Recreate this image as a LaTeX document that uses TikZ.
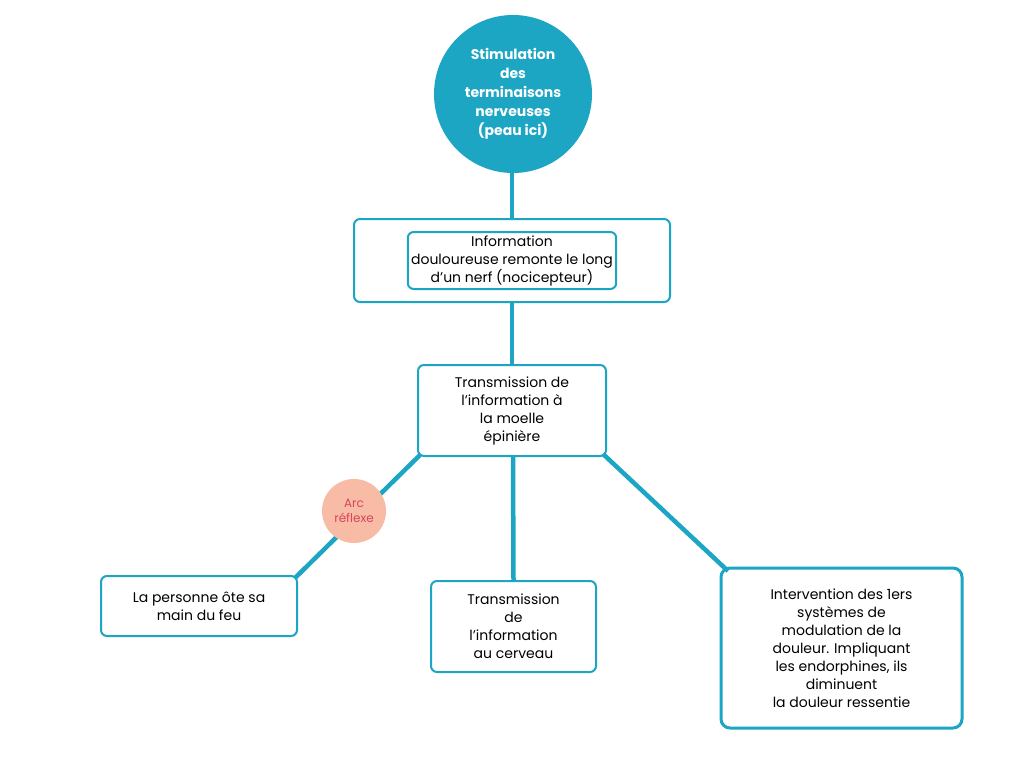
\documentclass[tikz,border=0pt]{standalone}
\usepackage{fontspec}
\setmainfont{Poppins}
\definecolor{teal}{HTML}{1CA6C4}
\definecolor{peach}{HTML}{F8BBA6}
\definecolor{redt}{HTML}{D9455A}
\begin{document}
\begin{tikzpicture}[x=1pt,y=-1pt,
  box/.style={draw=teal,line width=2pt,rounded corners=6pt,fill=white,align=center,font=\fontsize{14}{18}\selectfont},
  link/.style={draw=teal,line width=4.5pt}]
\useasboundingbox (0,0) rectangle (1024,768);
\fill[white] (0,0) rectangle (1024,768);
\coordinate (c) at (512,180);
\node[box,minimum width=316pt,minimum height=83pt] (b1) at (512,260.5) {Information\\douloureuse remonte le long\\d’un nerf (nocicepteur)};
\node[box,minimum width=188pt,minimum height=91pt] (b2) at (512,410.5) {Transmission de\\l’information à\\la moelle\\épinière};
\node[box,minimum width=196pt,minimum height=60pt] (b3) at (199,606) {La personne ôte sa\\main du feu};
\node[box,minimum width=165pt,minimum height=91pt] (b4) at (513.5,626.5) {Transmission\\de\\l’information\\au cerveau};
\node[box,line width=3pt,rounded corners=9pt,minimum width=241pt,minimum height=160pt] (b5) at (841.5,648) {Intervention des 1ers\\systèmes de\\modulation de la\\douleur. Impliquant\\les endorphines, ils\\diminuent\\la douleur ressentie};
\coordinate (l1) at (420,455); \coordinate (l2) at (295,578);
\coordinate (r1) at (603,454); \coordinate (r2) at (728,571);
\begin{scope}[on background layer/.style={}]
\end{scope}
\draw[link] (512,170) -- (b1.north);
\draw[link] (b1.south) -- (b2.north);
\draw[link] (513,456) -- (b4.north);
\draw[link] (l1) -- (l2);
\draw[link] (r1) -- (r2);
\node[box] at (b1) {Information\\douloureuse remonte le long\\d’un nerf (nocicepteur)};
\node[circle,fill=teal,minimum size=158pt,inner sep=0pt,align=center,text=white,font=\bfseries\fontsize{14}{19}\selectfont] (s) at (513,94) {Stimulation\\des\\terminaisons\\nerveuses\\(peau ici)};
\node[circle,fill=peach,minimum size=64pt,inner sep=0pt,align=center,text=redt,font=\fontsize{12}{15}\selectfont] (a) at (354,511) {Arc\\réflexe};
\end{tikzpicture}
\end{document}
